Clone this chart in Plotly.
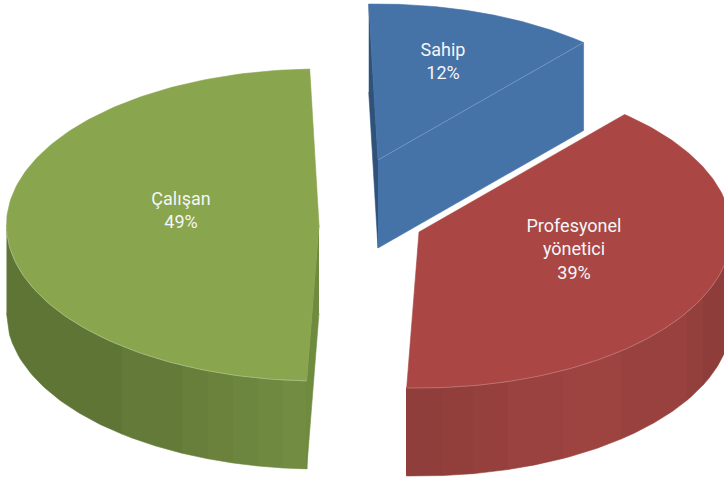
import numpy as np
import plotly.graph_objects as go

categories = ["Sahip", "Profesyonel<br>yönetici", "Çalışan"]
values = [11.9, 39.2, 48.9]

W, H = 724, 478
RX, RY, DEPTH = 312.5, 156, 88
START = -1.7
CENTERS = [(378, 160), (419, 232), (319, 225)]
TOP = ["#4572A7", "#AA4643", "#89A54E"]
LABEL_POS = [(443, 63), (574, 251), (181, 212)]
EDGE = ["#8FAACB", "#C98C8A", "#B7C997"]
SIDE = ["#2F527B", None, "#6F8B40"]
BANDS = {
    1: ([406, 442, 473, 508, 563, 621, 687, 703, 732],
        ["#8F3E3B", "#923F3C", "#96403D", "#9A423F", "#9D4340", "#98413E", "#933F3C", "#8E3D3A"]),
    2: ([6.5, 122, 182, 208, 233, 258, 283, 307],
        ["#5F7536", "#647A39", "#687F3B", "#6B823D", "#6D863F", "#708941", "#728C42"]),
}


def pt(c, deg):
    t = np.radians(deg)
    return c[0] + RX * np.sin(t), c[1] - RY * np.cos(t)


fig = go.Figure()


def poly(xs, ys, color):
    fig.add_trace(go.Scatter(
        x=list(xs), y=list(ys), mode="lines", fill="toself", fillcolor=color,
        line=dict(color=color, width=0.6), hoverinfo="skip", showlegend=False))


def line(xs, ys, color, width=0.8):
    fig.add_trace(go.Scatter(
        x=list(xs), y=list(ys), mode="lines", line=dict(color=color, width=width),
        hoverinfo="skip", showlegend=False))


angles = START + np.concatenate([[0], np.cumsum(values)]) * 3.6

for i in [2, 1, 0]:
    c = CENTERS[i]
    a0, a1 = angles[i], angles[i + 1]
    x0, y0 = pt(c, a0)
    x1, y1 = pt(c, a1)

    # curved outer wall, shaded in vertical bands
    if i in BANDS:
        edges, cols = BANDS[i]
        for k, col in enumerate(cols):
            xs = np.linspace(edges[k], edges[k + 1], 40)
            ys = c[1] + RY * np.sqrt(np.clip(1 - ((xs - c[0]) / RX) ** 2, 0, 1))
            poly(np.r_[xs, xs[::-1]], np.r_[ys, ys[::-1] + DEPTH], col)

    # flat cut faces
    if i == 0:
        poly([x0, c[0], c[0], x0], [y0, c[1], c[1] + DEPTH, y0 + DEPTH], SIDE[0])
        poly([c[0], x1, x1, c[0]], [c[1], y1, y1 + DEPTH, c[1] + DEPTH], TOP[0])
    if i == 2:
        poly([c[0], x0, x0, c[0]], [c[1], y0, y0 + DEPTH, c[1] + DEPTH], SIDE[2])

    # top face
    t = np.linspace(a0, a1, 160)
    ax, ay = pt(c, t)
    poly(np.r_[c[0], ax, c[0]], np.r_[c[1], ay, c[1]], TOP[i])

    # thin highlight along the front of the top face
    if i == 0:
        line([c[0], x1], [c[1], y1], EDGE[0], 0.6)
    else:
        vis = t[(np.cos(np.radians(t)) < 0)]
        hx, hy = pt(c, vis)
        line(hx, hy, EDGE[i], 0.6)

for cat, val, (lx, ly) in zip(categories, values, LABEL_POS):
    fig.add_trace(go.Scatter(
        x=[lx], y=[ly], mode="text", text=[f"{cat}<br>{val:.0f}%"],
        textposition="middle center",
        textfont=dict(family="Roboto, sans-serif", size=18, color="#F4F6F8"),
        hoverinfo="skip", showlegend=False))

fig.update_layout(
    width=W, height=H, margin=dict(l=0, r=0, t=0, b=0),
    paper_bgcolor="white", plot_bgcolor="white", showlegend=False,
    xaxis=dict(range=[0, W], visible=False, fixedrange=True),
    yaxis=dict(range=[H, 0], visible=False, fixedrange=True),
)
fig.write_html("out.html", config={"displayModeBar": False},
               post_script="document.body.style.margin='0';document.body.style.overflow='hidden';")
